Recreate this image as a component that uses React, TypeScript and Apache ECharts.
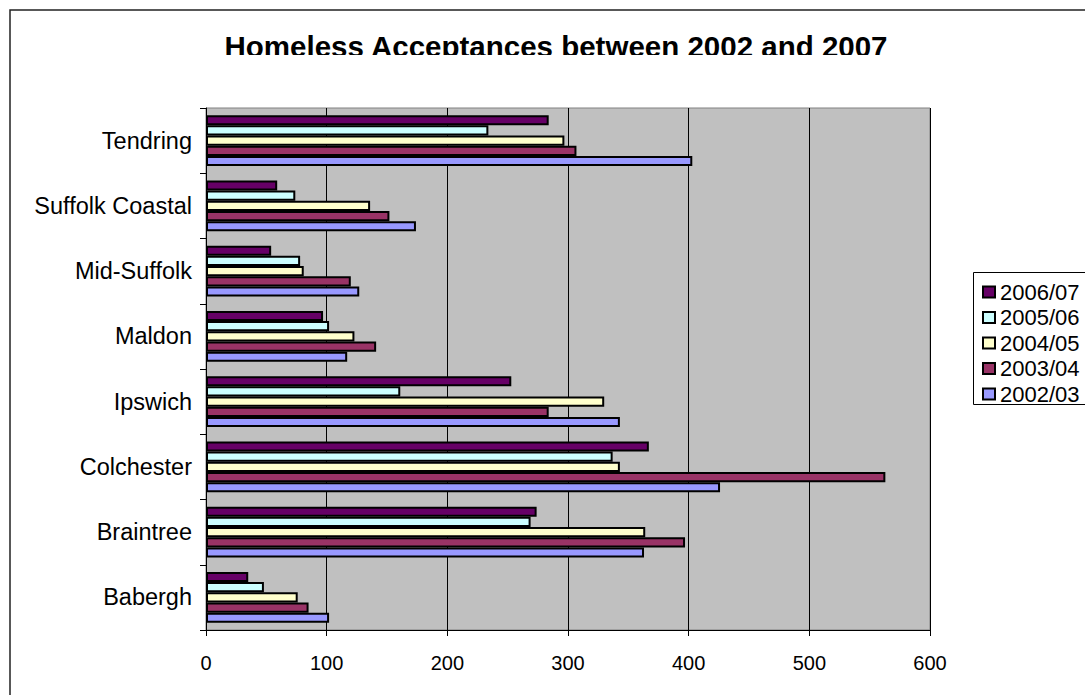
import React, { useEffect, useRef } from "react";
import * as echarts from "echarts";

const categories = ["Babergh", "Braintree", "Colchester", "Ipswich", "Maldon", "Mid-Suffolk", "Suffolk Coastal", "Tendring"];
const seriesNames = ["2006/07", "2005/06", "2004/05", "2003/04", "2002/03"];
const v200607 = [35, 274, 367, 253, 97, 54, 59, 284];
const v200506 = [48, 269, 337, 161, 102, 78, 74, 234];
const v200405 = [76, 364, 343, 330, 123, 81, 136, 297];
const v200304 = [85, 397, 563, 284, 141, 120, 152, 307];
const v200203 = [102, 363, 426, 343, 117, 127, 174, 403];
const seriesValues = [v200607, v200506, v200405, v200304, v200203];
const seriesColors = ["#660066", "#CCFFFF", "#FFFFCC", "#993366", "#9999FF"];
const xTicks = [0, 100, 200, 300, 400, 500, 600];

const FONT = "'Liberation Sans', Arial, sans-serif";

export default function App() {
  const ref = useRef<HTMLDivElement>(null);
  useEffect(() => {
    const chart = echarts.init(ref.current!, null, { renderer: "svg" });
    chart.setOption({
      animation: false,
      backgroundColor: "#ffffff",
      textStyle: { fontFamily: FONT },
      title: {
        text: "Homeless Acceptances between 2002 and 2007",
        left: 551,
        top: 26,
        textAlign: "center",
        textStyle: { fontSize: 29.5, fontWeight: "bold", color: "#000", fontFamily: FONT },
      },
      graphic: [
        { type: "rect", z: 100, shape: { x: 200, y: 55, width: 700, height: 16 }, style: { fill: "#fff" } },
        { type: "rect", z: 100, shape: { x: 10, y: 10, width: 1200, height: 800 }, style: { fill: "none", stroke: "#222", lineWidth: 1.5 } },
        { type: "rect", z: 100, shape: { x: 973.5, y: 272.5, width: 200, height: 132 }, style: { fill: "none", stroke: "#000", lineWidth: 1 } },
      ],
      legend: {
        orient: "vertical",
        left: 982,
        top: 281,
        padding: 0,
        itemWidth: 12,
        itemHeight: 11,
        itemGap: 3.5,
        icon: "rect",
        data: seriesNames,
        textStyle: { fontSize: 22, color: "#000", fontFamily: FONT, padding: [0, 0, 0, 0] },
      },
      grid: {
        left: 206,
        top: 108,
        width: 724,
        height: 522,
        show: true,
        backgroundColor: "#C0C0C0",
        borderColor: "#808080",
        borderWidth: 1,
      },
      xAxis: {
        type: "value",
        min: xTicks[0],
        max: xTicks[xTicks.length - 1],
        interval: 100,
        axisLine: { show: true, lineStyle: { color: "#000", width: 1 } },
        axisTick: { show: true, length: 6, lineStyle: { color: "#000" } },
        axisLabel: { fontSize: 20, color: "#000", margin: 23, fontFamily: FONT },
        splitLine: { show: true, lineStyle: { color: "#000", width: 1 } },
      },
      yAxis: {
        type: "category",
        data: categories,
        axisLine: { show: true, lineStyle: { color: "#000", width: 1 } },
        axisTick: { show: true, length: 6, lineStyle: { color: "#000" } },
        axisLabel: { fontSize: 23.5, color: "#000", margin: 14, fontFamily: FONT },
        splitLine: { show: false },
      },
      series: seriesNames.map((name, i) => ({
        name,
        type: "bar",
        data: seriesValues[i],
        barGap: "0%",
        barCategoryGap: "22%",
        itemStyle: { color: seriesColors[i], borderColor: "#000", borderWidth: 2 },
      })),
    });
    return () => chart.dispose();
  }, []);
  return <div ref={ref} style={{ position: "fixed", left: 0, top: 0, width: 1085, height: 695 }} />;
}
